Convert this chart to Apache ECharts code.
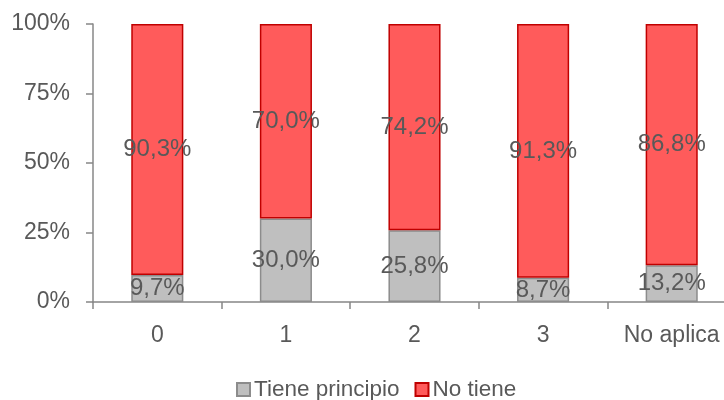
<!DOCTYPE html>
<html>
<head>
<meta charset="utf-8">
<script src="https://cdn.jsdelivr.net/npm/echarts@6/dist/echarts.min.js"></script>
<style>
  html, body { margin: 0; padding: 0; background: #fff; }
  #chart { width: 724px; height: 400px; }
</style>
</head>
<body>
<div id="chart"></div>
<script>
const categories = ['0', '1', '2', '3', 'No aplica'];
const tienePrincipio = [9.7, 30.0, 25.8, 8.7, 13.2];
const noTiene = [90.3, 70.0, 74.2, 91.3, 86.8];
const yTicks = [0, 25, 50, 75, 100];

const font = '"Liberation Sans", Arial, sans-serif';
const textColor = '#595959';
const fmt = (v) => v.toFixed(1).replace('.', ',') + '%';

const chart = echarts.init(document.getElementById('chart'));

function barSeries(name, data, fill, border) {
  return {
    name,
    type: 'bar',
    stack: 'total',
    barWidth: '40.5%',
    data,
    itemStyle: { color: fill, borderColor: border, borderWidth: 1.5 },
    label: {
      show: true,
      position: 'inside',
      color: textColor,
      fontFamily: font,
      fontSize: 24,
      formatter: (p) => fmt(p.value)
    }
  };
}

chart.setOption({
  animation: false,
  textStyle: { fontFamily: font },
  // plot area is wider than the canvas: the last category is cut at the right edge
  grid: { left: 93, top: 24, width: 643, height: 278, containLabel: false, outerBoundsMode: 'none' },
  legend: {
    top: 373,
    left: 231,
    itemWidth: 13,
    itemHeight: 13,
    itemGap: 15,
    icon: 'rect',
    textStyle: { color: textColor, fontSize: 22.5, fontFamily: font, padding: [0, 0, 0, -1] },
    data: ['Tiene principio', 'No tiene']
  },
  xAxis: {
    type: 'category',
    data: categories,
    axisLine: { lineStyle: { color: '#878787', width: 1.5 } },
    axisTick: { show: true, length: 7, lineStyle: { color: '#878787', width: 1.5 } },
    axisLabel: { color: textColor, fontSize: 23, fontFamily: font, margin: 22 }
  },
  yAxis: {
    type: 'value',
    min: 0,
    max: 100,
    interval: 25,
    axisLine: { show: true, lineStyle: { color: '#878787', width: 1.5 } },
    axisTick: { show: true, length: 7, lineStyle: { color: '#878787', width: 1.5 } },
    splitLine: { show: false },
    axisLabel: {
      color: textColor, fontSize: 23, fontFamily: font, margin: 23,
      formatter: (v) => yTicks.includes(v) ? v + '%' : ''
    }
  },
  series: [
    barSeries('Tiene principio', tienePrincipio, '#BFBFBF', '#8C8C8C'),
    barSeries('No tiene', noTiene, '#FF5B5B', '#C00000')
  ]
});
</script>
</body>
</html>
